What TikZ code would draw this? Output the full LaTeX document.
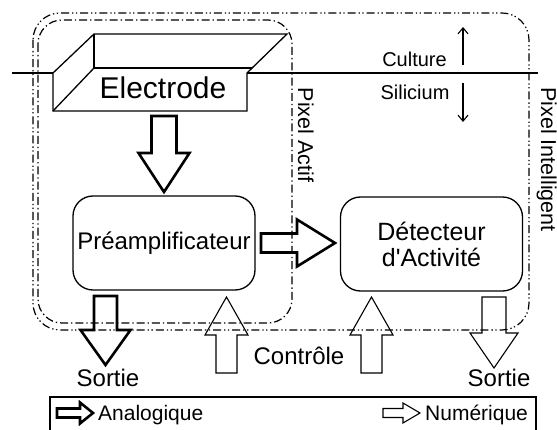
\documentclass[tikz,border=0pt]{standalone}
\usepackage{fontspec}
\setmainfont{Liberation Sans}[Ligatures=TeXOff]
\usetikzlibrary{arrows.meta}
\tikzset{
  roundbox/.style={draw, line width=1.3pt, rounded corners=20pt, minimum width=182pt, minimum height=94pt, inner sep=0pt, align=center},
  thickarr/.style={draw, line width=2.6pt, line join=miter},
  thinarr/.style={draw, line width=1.1pt, line join=miter},
  actifline/.style={line width=1.2pt, dash pattern=on 8pt off 3pt on 1.3pt off 3pt, rounded corners=24pt},
  intelline/.style={line width=1.2pt, dash pattern=on 8pt off 3pt on 1.3pt off 2.5pt on 1.3pt off 3pt, rounded corners=27pt},
  lbl/.style={inner sep=0pt},
  plain/.style={line width=1.3pt},
  smallarr/.style={line width=1.1pt, -{Straight Barb[length=6pt,width=10pt]}},
}
% style, tail, angle, length, shaft half width, head half width, head length
\newcommand{\blockarr}[7]{%
  \begin{scope}[shift={#2}, rotate=#3]
    \draw[#1] (0,-#5) -- ({#4-#7},-#5) -- ({#4-#7},-#6) -- (#4,0) -- ({#4-#7},#6) -- ({#4-#7},#5) -- (0,#5) -- cycle;
  \end{scope}}
\begin{document}
\begin{tikzpicture}[x=1pt,y=-1pt]
\clip (0,0) rectangle (557,430);
\fill[white] (0,0) rectangle (557,430);

% surface line
\draw[plain] (12,73) -- (53,73);
\draw[plain] (247,73) -- (538,73);

% electrode
\draw[plain, line join=miter] (53,73) -- (94,34) -- (287,34) -- (247,73) -- (247,111) -- (53,111) -- cycle;
\draw[plain] (94,34) -- (94,68) -- (252,68);
\draw[plain] (53,111) -- (94,68);
\node[lbl, font=\fontsize{30}{30}\selectfont, anchor=base] (elec) at (163,99) {Electrode};

% pixel boundaries
\draw[actifline] (38,20) rectangle (292,323);
\draw[intelline] (33,13) rectangle (529,330);
\node[lbl, font=\fontsize{21.5}{22}\selectfont, rotate=-90, anchor=base] (pa) at (298,135) {Pixel Actif};
\node[lbl, font=\fontsize{21.5}{22}\selectfont, rotate=-90, anchor=base] (pi) at (541,159.5) {Pixel Intelligent};

% culture / silicium
\node[lbl, font=\fontsize{20}{20}\selectfont, anchor=base] (cul) at (414.5,67) {Culture};
\node[lbl, font=\fontsize{20}{20}\selectfont, anchor=base] (sil) at (415,100) {Silicium};
\coordinate (cu0) at (463,65);
\coordinate (cu1) at (463,27);
\coordinate (si0) at (463,83);
\coordinate (si1) at (463,122);
\draw[smallarr] (cu0) -- (cu1);
\draw[smallarr] (si0) -- (si1);

% boxes
\node[roundbox, font=\fontsize{24}{26}\selectfont] (pre) at (164,243) {Préamplificateur};
\node[roundbox, font=\fontsize{25}{26}\selectfont] (det) at (431.5,244) {Détecteur\\d'Activité};

% block arrows
\blockarr{thickarr}{(164,116)}{-90}{76}{12.5}{25.5}{39}
\blockarr{thickarr}{(261,243)}{0}{74}{9.5}{23.5}{38}
\blockarr{thickarr}{(105.5,296)}{-90}{69}{11.5}{25}{35}
\blockarr{thinarr}{(226.5,373)}{90}{76}{10.5}{21.5}{38}
\blockarr{thinarr}{(371.5,373)}{90}{76}{10.5}{21.5}{38}
\blockarr{thinarr}{(494,297)}{-90}{71}{12}{24}{35}

% outputs / control
\node[lbl, font=\fontsize{24}{24}\selectfont, anchor=base] (s1) at (108,386) {Sortie};
\node[lbl, font=\fontsize{24}{24}\selectfont, anchor=base] (ctl) at (299,364) {Contrôle};
\node[lbl, font=\fontsize{24}{24}\selectfont, anchor=base] (s2) at (499,386) {Sortie};

% legend
\draw[plain] (50,397) rectangle (536,445);
\blockarr{thickarr}{(57,413)}{0}{36}{4.5}{10.5}{13}
\node[lbl, font=\fontsize{21}{22}\selectfont, anchor=base west] (ana) at (98,420) {Analogique};
\blockarr{thinarr}{(383,413)}{0}{37}{4.5}{10}{17}
\node[lbl, font=\fontsize{21}{22}\selectfont, anchor=base west] (num) at (425,420) {Numérique};
\end{tikzpicture}
\end{document}
